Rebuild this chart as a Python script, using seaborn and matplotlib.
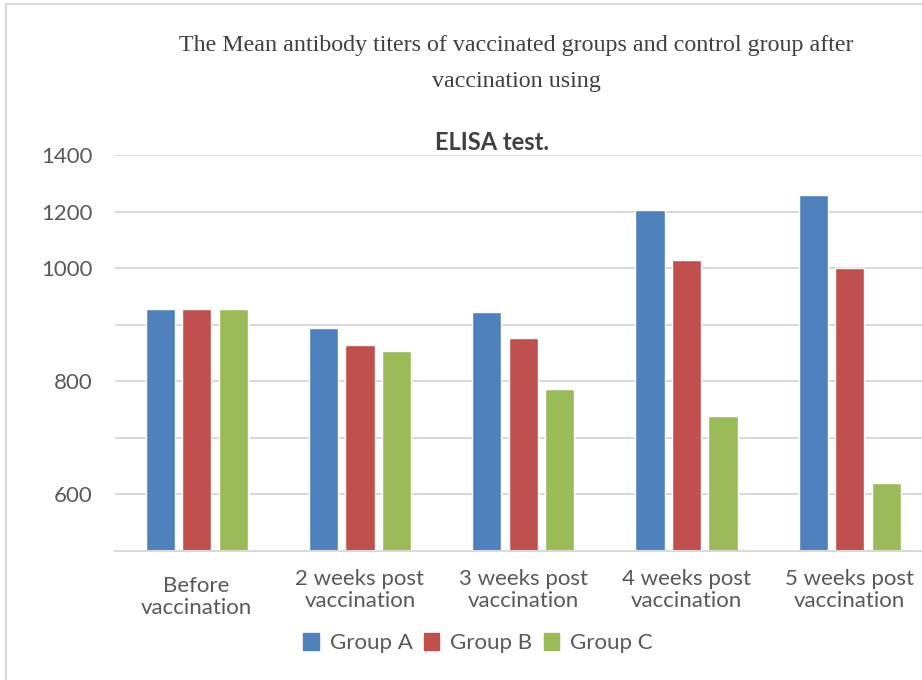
import numpy as np
import pandas as pd
import seaborn as sns
import matplotlib.pyplot as plt
import matplotlib.transforms as mtransforms
from matplotlib.patches import Patch, Rectangle

# values (in the units of its tick labels)
categories = ["Before\nvaccination", "2 weeks post\nvaccination", "3 weeks post\nvaccination",
              "4 weeks post\nvaccination", "5 weeks post\nvaccination"]
group_a = [928, 895, 922, 1204, 1260]
group_b = [928, 865, 876, 1030, 1002]
group_c = [928, 853, 786, 738, 621]
groups = ["Group A", "Group B", "Group C"]
colors = ["#4F81BD", "#C0504D", "#9BBB59"]
major_ticks = [600, 800, 1000, 1200, 1400]
minor_ticks = [700, 900]

df = pd.DataFrame({
    "time": categories * 3,
    "titer": group_a + group_b + group_c,
    "group": [g for g in groups for _ in categories],
})

sns.set_style("white")
plt.rcParams["font.family"] = ["Lato", "DejaVu Sans"]

fig = plt.figure(figsize=(9.22, 6.8), dpi=100)
ax = fig.add_axes([115 / 922, 1 - 551 / 680, 816.5 / 922, 396 / 680])


# the axis steps by 100 below 1000 and by 200 above it
def fwd(v):
    v = np.asarray(v, dtype=float)
    return np.where(v < 1000, (v - 500) / 100, 5 + (v - 1000) / 200)


def inv(p):
    p = np.asarray(p, dtype=float)
    return np.where(p < 5, 500 + p * 100, 1000 + (p - 5) * 200)


ax.set_yscale("function", functions=(fwd, inv))

sns.barplot(data=df, x="time", y="titer", hue="group", palette=colors,
            width=0.67, gap=0.2, saturation=1, legend=False, ax=ax)

ax.set_ylim(500, 1400)
ax.set_xlim(-0.5, 4.5)
ax.set_yticks(major_ticks)
ax.set_yticklabels([str(t) for t in major_ticks])
ax.set_yticks(minor_ticks, minor=True)
ax.yaxis.set_minor_formatter(plt.NullFormatter())
ax.yaxis.grid(True, which="both", color="#D9D9D9", linewidth=1.5)
ax.set_axisbelow(True)
ax.tick_params(axis="y", which="both", length=0, pad=16, labelsize=16, labelcolor="#595959")

ax.set_xticks(np.arange(-0.5, 5, 1))
ax.set_xticklabels([])
ax.set_xticks(range(5), minor=True)
ax.set_xticklabels(categories, minor=True, linespacing=1.15)
ax.tick_params(axis="x", which="major", length=7, width=1.5, color="#D9D9D9", direction="out")
ax.tick_params(axis="x", which="minor", length=0, pad=13, labelsize=16, labelcolor="#595959")
# the first label sits a little lower in the original
first = ax.get_xticklabels(minor=True)[0]
first.set_transform(first.get_transform() + mtransforms.ScaledTranslation(0, -0.07, fig.dpi_scale_trans))
ax.set_xlabel("")
ax.set_ylabel("")

for side in ["left", "right", "top"]:
    ax.spines[side].set_visible(False)
ax.spines["bottom"].set_color("#D9D9D9")
ax.spines["bottom"].set_linewidth(1.5)

fig.text(516 / 922, 1 - 45 / 680,
         "The Mean antibody titers of vaccinated groups and control group after",
         ha="center", va="center", family="Liberation Serif", fontsize=17.3, color="#404040")
fig.text(516 / 922, 1 - 82 / 680, "vaccination using",
         ha="center", va="center", family="Liberation Serif", fontsize=17.3, color="#404040")
fig.text(492 / 922, 1 - 142 / 680, "ELISA test.",
         ha="center", va="center", fontsize=17, fontweight="bold", color="#404040")

handles = [Patch(color=c) for c in colors]
fig.legend(handles, groups, loc="center", bbox_to_anchor=(478 / 922, 1 - 643 / 680),
           ncol=3, frameon=False, handlelength=0.7, handleheight=0.8,
           handletextpad=0.5, columnspacing=0.5, fontsize=16, labelcolor="#595959")

fig.patches.append(Rectangle((6 / 922, -0.1), 1.2, 1 - 4 / 680 + 0.1, transform=fig.transFigure,
                             fill=False, edgecolor="#D9D9D9", linewidth=1.5))

fig.savefig("out.png", dpi=100, facecolor="white")
